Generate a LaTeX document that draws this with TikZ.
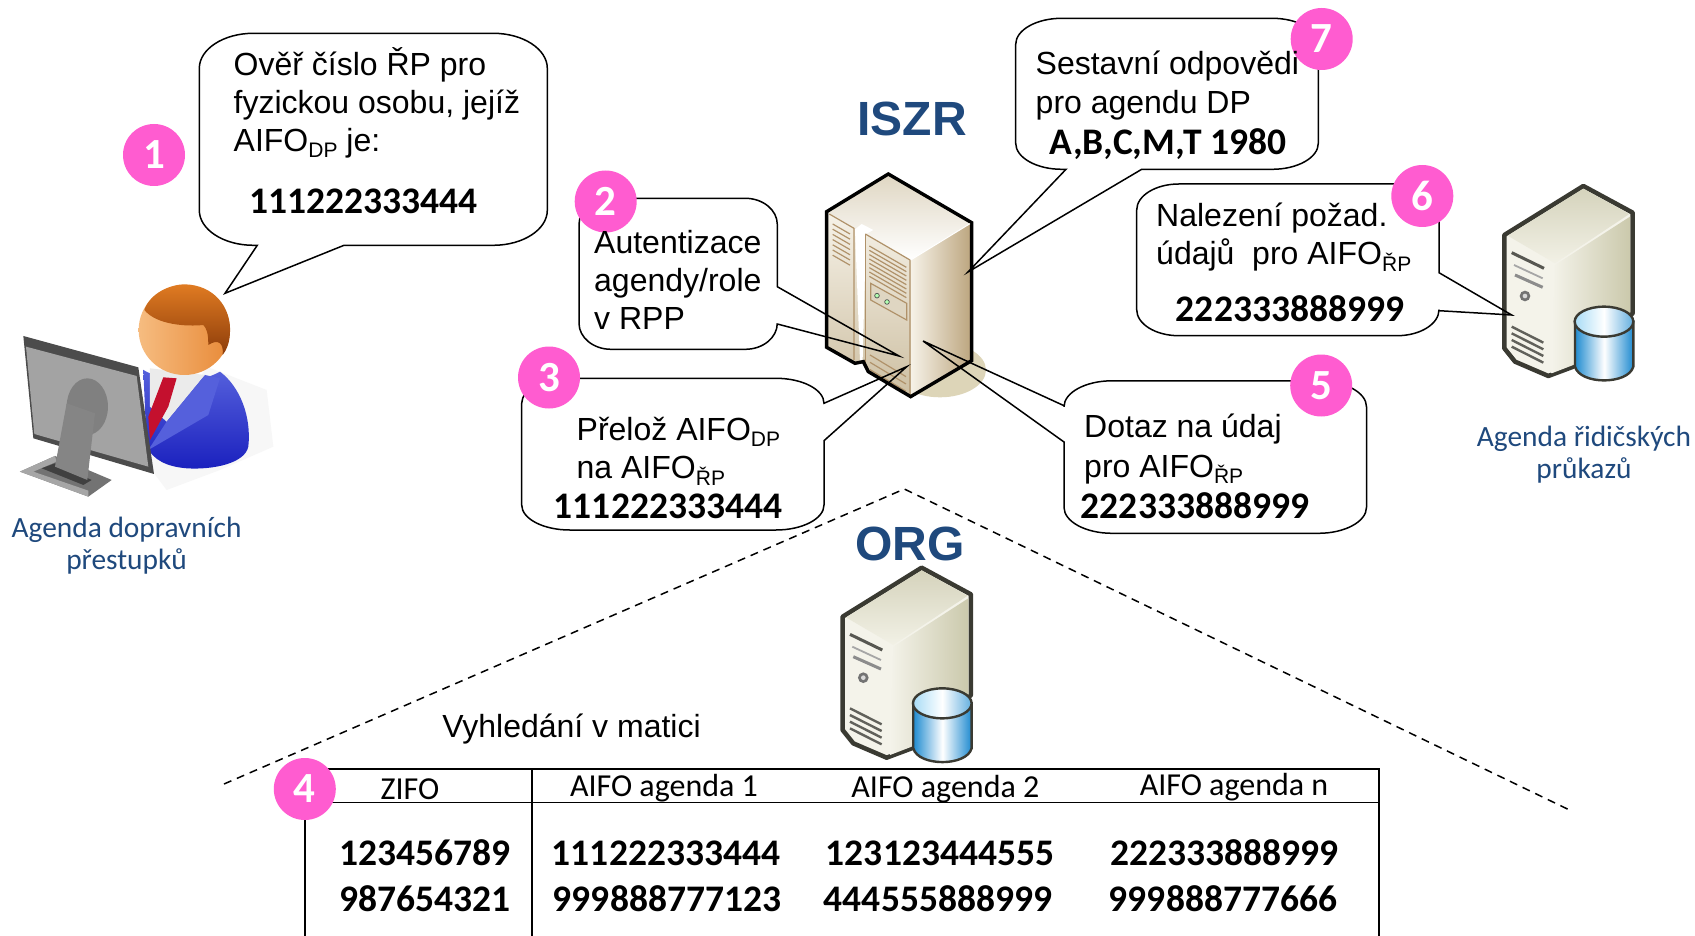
\documentclass[tikz,border=0pt]{standalone}
\usepackage{fontspec}
\setmainfont{Liberation Sans}
\newfontfamily\calib{Carlito}
\definecolor{pinkc}{HTML}{FF5CD0}
\definecolor{navy}{HTML}{1F497D}
\definecolor{tan1}{HTML}{B0926A}
\definecolor{hairA}{HTML}{E07B22}
\definecolor{hairB}{HTML}{8C3C0A}
\definecolor{faceA}{HTML}{F6BC80}
\definecolor{faceB}{HTML}{E88A38}
\definecolor{suitA}{HTML}{5560DC}
\definecolor{suitB}{HTML}{1A20BE}
\definecolor{tieR}{HTML}{C4102E}
\definecolor{sv1}{HTML}{F6F2E8}
\definecolor{sv2}{HTML}{DFD6C2}
\definecolor{sv3}{HTML}{BCA57E}
\definecolor{sv4}{HTML}{CDBFA2}
\definecolor{svG}{HTML}{DDD5B8}
\definecolor{dbT1}{HTML}{D5D3BC}
\definecolor{dbT2}{HTML}{F2F1E6}
\definecolor{dbR}{HTML}{CBC9AC}
\definecolor{dbF}{HTML}{F4F3EA}
\definecolor{dbE}{HTML}{3A3A32}
\definecolor{cyl1}{HTML}{1F8BD0}
\definecolor{cyl2}{HTML}{A8DCF6}
\newcommand{\artxt}{\fontsize{32}{38}\selectfont}
\newcommand{\subt}[1]{\raisebox{-6.5pt}{\fontsize{21}{21}\selectfont #1}}
\newcommand{\numtxt}{\calib\bfseries\fontsize{37.5}{44}\selectfont}
\newcommand{\labtxt}{\calib\fontsize{29.4}{31}\selectfont}
\newcommand{\hdtxt}{\calib\fontsize{32}{32}\selectfont}
% bubble: L R T B rx ry, tail on right side, tail on bottom, tail on left side
\newcommand{\bubble}[9]{%
  \draw[bubbleline] ({#1+#5},#3) -- ({#2-#5},#3)
    .. controls ({#2-.45*#5},#3) and (#2,{#3+.45*#6}) .. (#2,{#3+#6})
    #7 -- (#2,{#4-#6})
    .. controls (#2,{#4-.45*#6}) and ({#2-.45*#5},#4) .. ({#2-#5},#4)
    #8 -- ({#1+#5},#4)
    .. controls ({#1+.45*#5},#4) and (#1,{#4-.45*#6}) .. (#1,{#4-#6})
    #9 -- (#1,{#3+#6})
    .. controls (#1,{#3+.45*#6}) and ({#1+.45*#5},#3) .. ({#1+#5},#3) -- cycle;}
\newcommand{\dbserver}[1]{%
 \begin{scope}[shift={#1},x=.3333pt,y=-.3333pt]
  \draw[line width=4.5pt,draw=dbE,fill=dbF,line join=round]
    (340,48) -- (488,128) -- (488,430) -- (310,590) -- (235,618) -- (135,575) -- (103,535) -- (103,195) -- cycle;
  \shade[left color=dbF,right color=dbR] (255,285) -- (480,140) -- (480,430) -- (310,585) -- (245,610) -- cycle;
  \shade[top color=dbT1,bottom color=dbT2] (340,56) -- (478,132) -- (255,280) -- (113,197) -- cycle;
  \draw[line width=3pt,dbE!85] (125,248) -- (222,295);
  \draw[line width=1.8pt,black!35] (132,285) -- (218,325);
  \draw[line width=3pt,black!45] (135,315) -- (218,352);
  \fill[black!55] (165,378) circle (16);
  \fill[white!70!gray] (165,378) circle (7);
  \foreach \k in {0,20,40,60} \draw[line width=2.4pt,dbE!80] (125,{470+\k}) -- (220,{518+\k});
  \shadedraw[left color=cyl1,right color=cyl1,middle color=white,draw=dbE,line width=2.4pt]
    (315,455) -- (315,590) .. controls (330,645) and (475,645) .. (490,590) -- (490,455) -- cycle;
  \shadedraw[left color=cyl2,right color=cyl1!70,middle color=white,draw=dbE,line width=2.4pt]
    (402,455) ellipse [x radius=88,y radius=45];
 \end{scope}}
\begin{document}
\begin{tikzpicture}[x=1pt,y=-1pt,
  bubbleline/.style={draw=black,line width=1.5pt,line join=miter},
  numcirc/.style={circle,fill=pinkc,minimum size=62pt,inner sep=0pt,text=white,font=\calib\bfseries\fontsize{43}{43}\selectfont},
  arial/.style={anchor=base west,inner sep=0pt,font=\artxt},
  num/.style={anchor=base,inner sep=0pt,font=\numtxt},
  lab/.style={anchor=base,inner sep=0pt,text=navy,font=\labtxt},
  hd/.style={anchor=base,inner sep=0pt,font=\hdtxt},
  ttl/.style={anchor=center,inner sep=0pt,text=navy,font=\bfseries\fontsize{48}{48}\selectfont},
  tline/.style={line width=1.5pt,black},
  dashline/.style={line width=1.5pt,dash pattern=on 8pt off 6pt}]
\useasboundingbox (0,0) rectangle (1695,936);
\fill[white] (0,0) rectangle (1695,936);

% === person at monitor ===
\begin{scope}[shift={(0,250)},x=.3333pt,y=-.3333pt]
 \fill[black!3] (440,640) -- (620,350) -- (800,420) -- (820,590) -- (660,660) -- (500,720) -- cycle;
 \shade[top color=suitA,bottom color=suitB] (430,360) .. controls (500,400) and (600,400) .. (660,365)
   .. controls (720,410) and (755,500) .. (745,590) .. controls (735,640) and (640,660) .. (560,655)
   .. controls (500,650) and (460,630) .. (440,590) -- cycle;
 \fill[white!92!black] (450,355) -- (615,375) -- (500,515) -- (450,470) -- cycle;
 \fill[suitA] (615,375) -- (500,515) -- (445,600) -- (625,495) -- (660,385) -- cycle;
 \fill[tieR] (490,382) -- (530,385) -- (505,470) -- (450,570) -- (445,500) -- cycle;
 \shade[left color=faceA,right color=faceB] (553,240) ellipse [x radius=137,y radius=135];
 \shade[top color=hairA,bottom color=hairB] (433,180) .. controls (450,130) and (510,103) .. (555,103)
   .. controls (640,105) and (695,170) .. (690,250) .. controls (688,280) and (680,300) .. (668,315)
   .. controls (672,280) and (655,265) .. (625,285) .. controls (625,250) and (620,235) .. (610,225)
   .. controls (560,230) and (470,225) .. (433,180) -- cycle;
 % base
 \fill[black!55] (60,665) -- (165,618) -- (335,690) -- (265,740) -- cycle;
 \fill[black!35] (60,665) -- (165,618) -- (170,635) -- (100,665) -- (265,722) -- (265,740) -- cycle;
 \fill[black!75] (125,655) -- (165,640) -- (275,690) -- (250,705) -- cycle;
 % monitor
 \fill[black!70] (70,258) -- (415,352) -- (462,672) -- (100,565) -- cycle;
 \fill[black!36] (78,290) -- (410,378) -- (445,650) -- (103,552) -- cycle;
 \fill[black!50] (262,470) ellipse [x radius=62,y radius=85];
 \fill[black!48] (200,460) -- (285,490) -- (262,690) -- (165,650) -- cycle;
\end{scope}

% === ISZR server ===
\begin{scope}[shift={(780,150)},x=.3333pt,y=-.3333pt]
 \fill[svG] (480,660) ellipse [x radius=138,y radius=82];
 \shade[top color=sv2,bottom color=white] (325,72) -- (140,185) -- (392,330) -- (575,218) -- cycle;
 \shade[left color=sv1,right color=sv3] (392,330) -- (575,218) -- (575,632) -- (392,740) -- cycle;
 \shade[top color=sv1,bottom color=sv4] (140,185) -- (392,330) -- (392,740) -- (265,665) -- (250,635) -- (225,640) -- (140,592) -- cycle;
 \fill[white] (225,238) -- (245,222) -- (280,240) -- (258,252) -- (248,630) -- (240,632) -- cycle;
 \draw[tan1,line width=1.2pt] (148,192) -- (222,235) -- (222,630);
 \draw[tan1,line width=1.2pt] (256,252) -- (390,330) -- (390,735);
 \draw[tan1,line width=1.2pt] (256,252) -- (256,640);
 \foreach \k in {0,15.6,31.2,46.8,62.4,78,93.6} \draw[tan1,line width=1.2pt] (158,{222+\k}) -- (210,{252+\k});
 \foreach \k in {0,13,26,39,52,65,78,91} \draw[tan1,line width=1.2pt] (268,{288+\k}) -- (379,{352+\k});
 \draw[tan1,line width=1.2pt,fill=sv2] (272,400) -- (380,460) -- (380,510) -- (272,450) -- cycle;
 \draw[black!70,fill=green!30!white,line width=.7pt] (291,437) circle (7) (321,456) circle (7);
 \foreach \k in {0,22,44} \draw[tan1,line width=1.2pt] (270,{615+\k}) -- (378,{680+\k});
 \draw[black,line width=3.4pt,line join=miter] (325,72) -- (575,218) -- (575,632) -- (392,740) -- (265,665) -- (250,635) -- (225,640) -- (140,592) -- (140,185) -- cycle;
 \draw[white,line width=1pt] (392,330) -- (570,221);
\end{scope}

% === database servers ===
\dbserver{(1470,170)}
\dbserver{(808.3,551.7)}

% === ORG triangle ===
\coordinate (apex) at (904.3,489);
\coordinate (dashL) at (224,784);
\coordinate (dashR) at (1569.5,810);
\draw[dashline] (dashL) -- (apex) -- (dashR);

% === table ===
\coordinate (tTL) at (305,769);
\coordinate (tTM) at (532,769);
\coordinate (tTR) at (1379,769);
\coordinate (tHL) at (305,802.6);
\coordinate (tHR) at (1379,802.6);
\coordinate (tBL) at (305,936);
\coordinate (tBM) at (532,936);
\coordinate (tBR) at (1379,936);
\draw[tline] (tBL) -- (tTL) -- (tTR) -- (tBR);
\draw[tline] (tHL) -- (tHR);
\draw[tline] (tTM) -- (tBM);

% === speech bubbles ===
\coordinate (tipA) at (225,293.3);
\coordinate (tipB) at (899,356);
\coordinate (tipC) at (906.7,366.7);
\coordinate (tipD) at (923,341);
\coordinate (tipE) at (1511.7,315);
\coordinate (tipF) at (968,272);
\bubble{199.3}{547.3}{33.3}{245.3}{54}{35}{}{-- (344,245.3) -- (tipA) -- (257.3,245.3)}{}
\bubble{579}{777.3}{198.3}{349.3}{32}{26}{-- (777.3,286.7) -- (tipB) -- (777.3,324)}{}{}
\bubble{521.7}{824}{378.3}{530}{48}{25}{-- (824,403.3) -- (tipC) -- (824,440.7)}{}{}
\bubble{1064}{1366.5}{380.8}{533.3}{48}{26}{}{}{-- (1064,442) -- (tipD) -- (1064,405.7)}
\bubble{1136.7}{1439}{184}{335.7}{42}{26}{-- (1439,272.7) -- (tipE) -- (1439,310.7)}{}{}
\bubble{1015.7}{1318.3}{18.3}{169.3}{46}{26}{}{-- (1141.7,169.3) -- (tipF) -- (1066,169.3)}{}

% === number circles ===
\node[numcirc] (c1) at (154,155) {1};
\node[numcirc] (c2) at (605.7,201.5) {2};
\node[numcirc] (c3) at (549,377.5) {3};
\node[numcirc] (c4) at (304.8,789) {4};
\node[numcirc] (c5) at (1321.2,385.5) {5};
\node[numcirc] (c6) at (1422.3,196) {6};
\node[numcirc] (c7) at (1321.7,39) {7};

% === bubble texts ===
\node[arial] (a1) at (233.5,76) {Ověř číslo ŘP pro};
\node[arial] (a2) at (233.5,113.6) {fyzickou osobu, jejíž};
\node[arial] (a3) at (233.5,151.5) {AIFO\subt{DP} je:};
\node[num,anchor=base west] (a4) at (249.5,214) {111222333444};

\node[arial] (b1) at (594,253.5) {Autentizace};
\node[arial] (b2) at (594,291.5) {agendy/role};
\node[arial] (b3) at (594,329.5) {v RPP};

\node[arial] (d1) at (576.5,440) {Přelož AIFO\subt{DP}};
\node[arial] (d2) at (576.5,478.5) {na AIFO\subt{ŘP}};
\node[num] (d3) at (668,518.5) {111222333444};

\node[arial] (e1) at (1084,437.5) {Dotaz na údaj};
\node[arial] (e2) at (1084,477) {pro AIFO\subt{ŘP}};
\node[num] (e3) at (1195,518) {222333888999};

\node[arial] (f1) at (1156,226.5) {Nalezení požad.};
\node[arial] (f2) at (1156,264.5) {údajů\ \ pro AIFO\subt{ŘP}};
\node[num] (f3) at (1290,321) {222333888999};

\node[arial] (g1) at (1035.5,75) {Sestavní odpovědi};
\node[arial] (g2) at (1035.5,113.5) {pro agendu DP};
\node[num] (g3) at (1168,155) {A,B,C,M,T 1980};

% === titles and labels ===
\node[ttl] (iszr) at (912,118.5) {ISZR};
\node[ttl] (org) at (910,544) {ORG};
\node[lab] (l1) at (126.6,537) {Agenda dopravních};
\node[lab] (l2) at (126.6,569) {přestupků};
\node[lab] (l3) at (1584,446) {Agenda řidičských};
\node[lab] (l4) at (1584,478) {průkazů};
\node[arial,anchor=center] (v) at (571.5,729) {Vyhledání v matici};

% === table texts ===
\node[hd] (h1) at (410,799) {ZIFO};
\node[hd] (h2) at (664,796) {AIFO agenda 1};
\node[hd] (h3) at (945.4,797) {AIFO agenda 2};
\node[hd] (h4) at (1234,795) {AIFO agenda n};
\node[num] (n11) at (425,865) {123456789};
\node[num] (n12) at (425,911) {987654321};
\node[num] (n21) at (666,865) {111222333444};
\node[num] (n22) at (667,911) {999888777123};
\node[num] (n31) at (940,865) {123123444555};
\node[num] (n32) at (938,911) {444555888999};
\node[num] (n41) at (1224.5,865) {222333888999};
\node[num] (n42) at (1223,911) {999888777666};
\end{tikzpicture}
\end{document}
